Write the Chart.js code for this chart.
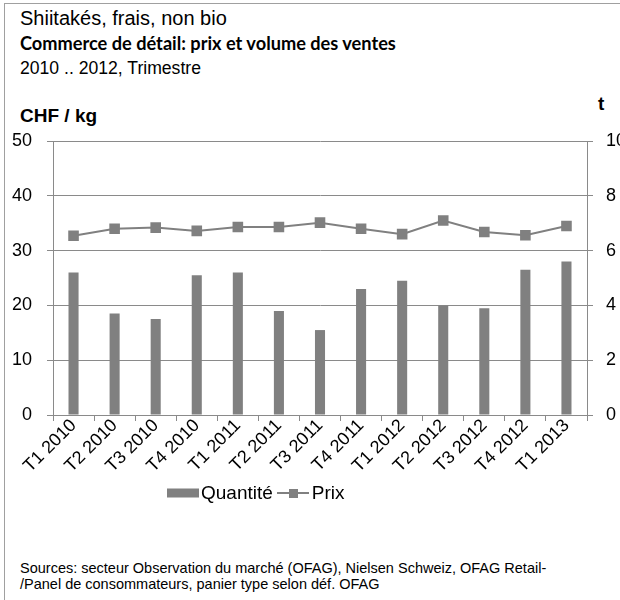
<!DOCTYPE html>
<html>
<head>
<meta charset="utf-8">
<script src="https://cdn.jsdelivr.net/npm/chart.js@4.4.1/dist/chart.umd.min.js"></script>
<style>
  body { margin: 0; background: #fff; }
  #wrap { position: relative; width: 620px; height: 600px; overflow: hidden; }
  #frame { position: absolute; left: 4px; top: 3px; width: 700px; height: 700px; border: 1px solid #a0a0a0; }
  #chart { position: absolute; left: 0; top: 0; }
  .txt { position: absolute; left: 20px; white-space: nowrap; font-family: "Liberation Sans", Arial, sans-serif;
         font-size: 19px; line-height: 19px; color: #000; }
  .bold { font-weight: bold; }
  #t2 { font-family: Lato, "Open Sans", sans-serif; font-size: 18.2px; line-height: 18.2px; }
  #src { font-size: 14.5px; line-height: 16px; }
  #legend { position: absolute; left: 167px; top: 483px; height: 20px; display: flex; align-items: center;
            font-family: "Liberation Sans", Arial, sans-serif; font-size: 19px; line-height: 20px; white-space: nowrap; }
  #legend canvas { display: block; }
</style>
</head>
<body>
<div id="wrap">
  <div id="frame"></div>
  <div class="txt" style="top:8px; font-size:20px; line-height:20px">Shiitakés, frais, non bio</div>
  <div class="txt bold" id="t2" style="top:34px">Commerce de détail: prix et volume des ventes</div>
  <div class="txt" style="top:59px; font-size:17.6px; line-height:18px">2010 .. 2012, Trimestre</div>
  <div class="txt bold" style="top:106px">CHF / kg</div>
  <div class="txt bold" style="top:94px; left:598px">t</div>
  <div class="txt" id="src" style="top:560px">Sources: secteur Observation du marché (OFAG), Nielsen Schweiz, OFAG Retail-<br>/Panel de consommateurs, panier type selon déf. OFAG</div>
  <canvas id="chart" width="620" height="600"></canvas>
  <div id="legend"></div>
</div>
<script>
const categories = ['T1 2010','T2 2010','T3 2010','T4 2010','T1 2011','T2 2011','T3 2011',
                    'T4 2011','T1 2012','T2 2012','T3 2012','T4 2012','T1 2013'];
// volume des ventes, t (axe de droite)
const quantite = [5.2, 3.7, 3.5, 5.1, 5.2, 3.8, 3.1, 4.6, 4.9, 4.0, 3.9, 5.3, 5.6];
// prix, CHF / kg (axe de gauche)
const prix = [32.7, 34.0, 34.2, 33.6, 34.3, 34.3, 35.1, 34.0, 33.0, 35.5, 33.4, 32.8, 34.5];

const grey = '#808080';
const gridColor = '#8a8a8a';
const fontFamily = '"Liberation Sans", Arial, sans-serif';

const ctx = document.querySelector('#chart').getContext('2d');

const chart = new Chart(ctx, {
  data: {
    labels: categories,
    datasets: [
      {
        type: 'bar',
        label: 'Quantité',
        data: quantite,
        yAxisID: 'y1',
        backgroundColor: grey,
        barPercentage: 0.245,
        categoryPercentage: 1
      },
      {
        type: 'line',
        label: 'Prix',
        data: prix,
        yAxisID: 'y',
        borderColor: grey,
        backgroundColor: grey,
        borderWidth: 2,
        pointStyle: 'rect',
        pointRadius: 7.5,
        pointBorderWidth: 0,
        tension: 0
      }
    ]
  },
  options: {
    responsive: false,
    animation: false,
    layout: { padding: { top: 141, left: 0, right: 0, bottom: 127 } },
    plugins: {
      tooltip: { enabled: false },
      legend: { display: false }
    },
    scales: {
      x: {
        offset: true,
        grid: { offset: true, drawOnChartArea: false, drawTicks: true, tickLength: 6, color: gridColor },
        border: { display: true, color: gridColor },
        ticks: { autoSkip: false, minRotation: 45, maxRotation: 45, padding: -6, color: '#000',
                 font: { family: fontFamily, size: 18 } },
        afterFit(scale) { scale.height = 58; }
      },
      y: {
        position: 'left',
        min: 0, max: 50,
        ticks: { stepSize: 10, padding: 15, color: '#000', font: { family: fontFamily, size: 18 } },
        grid: { color: gridColor, tickLength: 6 },
        border: { color: gridColor },
        afterFit(scale) { scale.width = 53; }
      },
      y1: {
        position: 'right',
        min: 0, max: 10,
        ticks: { stepSize: 2, padding: 13, color: '#000', font: { family: fontFamily, size: 18 } },
        grid: { drawOnChartArea: false, color: gridColor, tickLength: 6 },
        border: { color: gridColor },
        afterFit(scale) { scale.width = 33; }
      }
    }
  }
});

// legend, built from the chart's datasets
function legendIcon(type, color) {
  const c = document.createElement('canvas');
  c.width = 32; c.height = 10;
  const g = c.getContext('2d');
  g.fillStyle = color;
  if (type === 'bar') {
    g.fillRect(0, 0.5, 32, 9);
  } else {
    g.fillRect(0, 4, 32, 2);
    g.fillRect(12, 1, 9, 9);
  }
  return c;
}
const legend = document.querySelector('#legend');
chart.data.datasets.forEach((ds, i) => {
  const icon = legendIcon(ds.type, i === 0 ? ds.backgroundColor : ds.borderColor);
  icon.style.marginLeft = i === 0 ? '0' : '4px';
  icon.style.marginRight = i === 0 ? '2px' : '3px';
  const label = document.createElement('span');
  label.textContent = ds.label;
  legend.appendChild(icon);
  legend.appendChild(label);
});
</script>
</body>
</html>
